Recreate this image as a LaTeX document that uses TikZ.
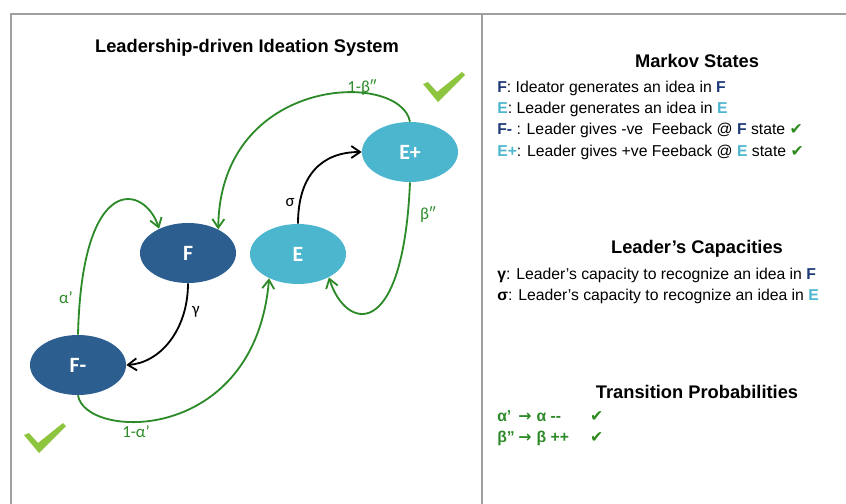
\documentclass[tikz,border=0pt]{standalone}
\usepackage{xcolor}
\usepackage{fontspec}
\setmainfont{Liberation Sans}
\newfontfamily\statefont{Carlito}
\newfontfamily\symfont{DejaVu Sans}
\usetikzlibrary{shapes.geometric,arrows.meta}

\definecolor{fblue}{HTML}{2C5E90}
\definecolor{eblue}{HTML}{4DB6CF}
\definecolor{fnavy}{HTML}{1F3A78}
\definecolor{arrowgreen}{HTML}{2D8A28}
\definecolor{tickgreen}{HTML}{8DC53F}
\definecolor{tickdark}{HTML}{2E8A1E}

\newcommand{\fstate}{\textcolor{fnavy}{\textbf{F}}}
\newcommand{\estate}{\textcolor{eblue}{\textbf{E}}}
\newcommand{\okmark}{{\symfont\textcolor{tickdark}{✔}}}
\newcommand{\bigokmark}[1]{\fill[tickgreen, shift={#1}] (-14,-17) -- (-9,-19) -- (0,-9) -- (25,-29) -- (28,-26) -- (1,1) -- cycle;}

\begin{document}
\begin{tikzpicture}[x=0.025cm, y=-0.025cm, >={Straight Barb[length=2.2mm,width=3mm]},
    darkstate/.style={ellipse, fill=fblue, text=white, font=\statefont\bfseries\fontsize{15.5}{17}\selectfont, minimum width=2.4cm, minimum height=1.5cm, inner sep=0pt},
    lightstate/.style={darkstate, fill=eblue},
    move/.style={->, line width=1.3pt, arrowgreen},
    recog/.style={->, line width=1.3pt, black},
    problabel/.style={text=arrowgreen, font=\statefont\fontsize{12}{14}\selectfont},
    caplabel/.style={font=\statefont\fontsize{12}{14}\selectfont},
    heading/.style={font=\bfseries\fontsize{13}{15}\selectfont},
    item/.style={anchor=west, inner sep=0pt, font=\fontsize{11.2}{13}\selectfont},
    frame/.style={draw=gray!75, line width=1.5pt}]
    \useasboundingbox (0,0) rectangle (846,504);
    % panels
    \draw[frame] (11,504) -- (11,14) -- (846,14);
    \draw[frame] (482,14) -- (482,504);

    % states
    \node[heading] (title) at (247,48) {Leadership-driven Ideation System};
    \node[darkstate] (f) at (188,253) {F};
    \node[lightstate] (e) at (298,254) {E};
    \node[lightstate] (eplus) at (410,152) {E+};
    \node[darkstate] (fminus) at (78,365) {F-};

    % transitions
    \draw[move] (fminus.north) .. controls (82,170) and (145,185) .. (f.140);
    \draw[recog] (f.south) .. controls (188,330) and (160,363) .. (fminus.east);
    \draw[move] (fminus.south) .. controls (85,440) and (255,445) .. (e.220);
    \draw[recog] (e.north) .. controls (298,175) and (322,152) .. (eplus.west);
    \draw[move] (eplus.north) .. controls (400,70) and (220,75) .. (f.38);
    \draw[move] (eplus.south) .. controls (403,345) and (345,330) .. (e.-37);

    \node[problabel] (alpha) at (66,298) {α’};
    \node[caplabel] (gamma) at (196,312) {γ};
    \node[problabel] (oneminusalpha) at (136,432) {1-α’};
    \node[caplabel] (sigma) at (290,203) {σ};
    \node[problabel] (oneminusbeta) at (362,88) {1-β″};
    \node[problabel] (beta) at (428,215) {β″};

    \bigokmark{(437,101)}
    \bigokmark{(38,452)}

    % legend
    \node[heading] (markov) at (697,61) {Markov States};
    \node[item] (m1) at (497,88) {\fstate: Ideator generates an idea in \fstate};
    \node[item] (m2) at (497,109) {\estate: Leader generates an idea in \estate};
    \node[item] (m3) at (497,130) {\fstate\textcolor{fnavy}{\textbf{-}} : Leader gives -ve\ \ Feeback @ \fstate\ state \okmark};
    \node[item] (m4) at (497,152) {\estate\textcolor{eblue}{\textbf{+}}: Leader gives +ve Feeback @ \estate\ state \okmark};

    \node[heading] (capacities) at (697,249) {Leader’s Capacities};
    \node[item] (c1) at (497,275) {\textbf{γ}: Leader’s capacity to recognize an idea in \fstate};
    \node[item] (c2) at (497,296) {\textbf{σ}: Leader’s capacity to recognize an idea in \estate};

    \node[heading] (transition) at (697,392) {Transition Probabilities};
    \node[item, text=arrowgreen, font=\bfseries\fontsize{11.2}{13}\selectfont] (t1) at (497,416)
        {\makebox[15pt][l]{α’}\makebox[13pt][l]{\symfont →}\makebox[38pt][l]{α {-}{-}}\okmark};
    \node[item, text=arrowgreen, font=\bfseries\fontsize{11.2}{13}\selectfont] (t2) at (497,438)
        {\makebox[15pt][l]{β”}\makebox[13pt][l]{\symfont →}\makebox[38pt][l]{β ++}\okmark};
\end{tikzpicture}
\end{document}
